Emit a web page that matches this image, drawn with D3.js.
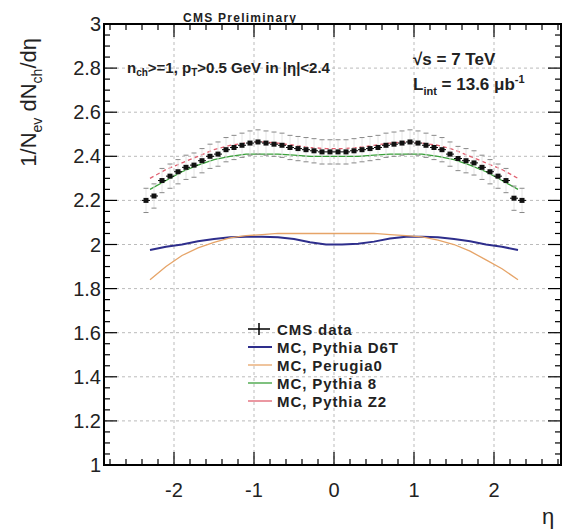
<!DOCTYPE html>
<html>
<head>
<meta charset="utf-8">
<script src="https://cdn.jsdelivr.net/npm/d3@7"></script>
<style>
  body { margin: 0; background: #fff; }
  svg { display: block; font-family: "Liberation Sans", Arial, sans-serif; }
</style>
</head>
<body>
<div id="chart"></div>
<script>
// data bin centres (0.1 wide bins)
const dataEta = [-2.35, -2.25, -2.15, -2.05, -1.95, -1.85, -1.75, -1.65, -1.55, -1.45, -1.35, -1.25,
                 -1.15, -1.05, -0.95, -0.85, -0.75, -0.65, -0.55, -0.45, -0.35, -0.25, -0.15, -0.05,
                 0.05, 0.15, 0.25, 0.35, 0.45, 0.55, 0.65, 0.75, 0.85, 0.95, 1.05, 1.15,
                 1.25, 1.35, 1.45, 1.55, 1.65, 1.75, 1.85, 1.95, 2.05, 2.15, 2.25, 2.35];
const cmsData = [2.20, 2.22, 2.29, 2.31, 2.33, 2.35, 2.36, 2.38, 2.40, 2.41, 2.43, 2.44,
                 2.45, 2.46, 2.465, 2.46, 2.455, 2.45, 2.44, 2.435, 2.43, 2.425, 2.42, 2.42,
                 2.42, 2.42, 2.425, 2.43, 2.435, 2.44, 2.45, 2.455, 2.46, 2.465, 2.46, 2.45,
                 2.44, 2.43, 2.41, 2.39, 2.38, 2.37, 2.35, 2.33, 2.31, 2.29, 2.21, 2.20];
const cmsErr = 0.055;

// MC curves
const mcEta = [-2.3, -2.1, -1.9, -1.7, -1.5, -1.3, -1.1, -0.9, -0.7, -0.5, -0.3, -0.1,
               0.1, 0.3, 0.5, 0.7, 0.9, 1.1, 1.3, 1.5, 1.7, 1.9, 2.1, 2.3];
const pythiaD6T = [1.975, 1.99, 2.0, 2.015, 2.025, 2.033, 2.035, 2.035, 2.033, 2.025, 2.01, 2.0,
                   2.0, 2.003, 2.013, 2.027, 2.035, 2.035, 2.033, 2.025, 2.015, 2.0, 1.99, 1.975];
const perugia0 = [1.84, 1.90, 1.95, 1.985, 2.01, 2.03, 2.04, 2.045, 2.05, 2.05, 2.05, 2.05,
                  2.05, 2.05, 2.05, 2.045, 2.04, 2.035, 2.02, 2.0, 1.97, 1.93, 1.89, 1.84];
const pythia8 = [2.25, 2.29, 2.33, 2.36, 2.385, 2.40, 2.41, 2.41, 2.41, 2.405, 2.40, 2.40,
                 2.40, 2.40, 2.405, 2.41, 2.41, 2.41, 2.40, 2.385, 2.36, 2.33, 2.29, 2.25];
const pythiaZ2 = [2.30, 2.34, 2.37, 2.40, 2.43, 2.45, 2.46, 2.465, 2.46, 2.45, 2.44, 2.435,
                  2.435, 2.44, 2.45, 2.46, 2.465, 2.46, 2.45, 2.43, 2.40, 2.37, 2.34, 2.30];

const xTicks = [-2, -1, 0, 1, 2];
const yTicks = [1, 1.2, 1.4, 1.6, 1.8, 2, 2.2, 2.4, 2.6, 2.8, 3];

const mcSeries = [
  {name: "MC, Pythia D6T", values: pythiaD6T, color: "#2e2e8c", dash: null, width: 2},
  {name: "MC, Perugia0", values: perugia0, color: "#e6a468", dash: null, width: 1.3},
  {name: "MC, Pythia 8", values: pythia8, color: "#3aa03a", dash: null, width: 1.3},
  {name: "MC, Pythia Z2", values: pythiaZ2, color: "#e06070", dash: "4,3", width: 1.3}
];

const W = 562, H = 529;
const svg = d3.select("#chart").append("svg").attr("width", W).attr("height", H);

const x = d3.scaleLinear().domain([-2.875, 2.8375]).range([104, 561]);
const y = d3.scaleLinear().domain([1, 3]).range([465, 24]);

// grid
const grid = svg.append("g").attr("stroke", "#bbb").attr("stroke-width", 1).attr("stroke-dasharray", "3,3");
grid.selectAll(".gx").data(xTicks).enter().append("line")
  .attr("x1", d => x(d)).attr("x2", d => x(d)).attr("y1", y(1)).attr("y2", y(3));
grid.selectAll(".gy").data(yTicks.slice(1, -1)).enter().append("line")
  .attr("x1", x.range()[0]).attr("x2", x.range()[1]).attr("y1", d => y(d)).attr("y2", d => y(d));

// frame
svg.append("rect").attr("x", x.range()[0]).attr("y", y(3))
  .attr("width", x.range()[1] - x.range()[0]).attr("height", y(1) - y(3))
  .attr("fill", "none").attr("stroke", "#000").attr("stroke-width", 2);

// ticks (inward, ROOT style)
const ticks = svg.append("g").attr("stroke", "#000").attr("stroke-width", 1.2);
const xMinor = d3.range(-2.8, 2.81, 0.2).map(v => Math.round(v * 10) / 10);
xMinor.forEach(v => {
  const major = Number.isInteger(v);
  const len = major ? 13 : 6;
  ticks.append("line").attr("x1", x(v)).attr("x2", x(v)).attr("y1", y(1)).attr("y2", y(1) - len);
  ticks.append("line").attr("x1", x(v)).attr("x2", x(v)).attr("y1", y(3)).attr("y2", y(3) + len);
});
const yMinor = d3.range(1, 3.001, 0.05).map(v => Math.round(v * 100) / 100);
yMinor.forEach(v => {
  const major = Math.abs(v * 5 - Math.round(v * 5)) < 1e-6;
  const len = major ? 13 : 6;
  ticks.append("line").attr("x1", x.range()[0]).attr("x2", x.range()[0] + len).attr("y1", y(v)).attr("y2", y(v));
  ticks.append("line").attr("x1", x.range()[1]).attr("x2", x.range()[1] - len).attr("y1", y(v)).attr("y2", y(v));
});

// tick labels
svg.selectAll(".xl").data(xTicks).enter().append("text")
  .attr("x", d => x(d)).attr("y", 497).attr("text-anchor", "middle")
  .attr("font-size", 20).attr("fill", "#222").text(d => d);
svg.selectAll(".yl").data(yTicks).enter().append("text")
  .attr("x", 101).attr("y", d => y(d) + 7).attr("text-anchor", "end")
  .attr("font-size", 20).attr("fill", "#222").text(d => d);

// axis titles
svg.append("text").attr("x", 548).attr("y", 524).attr("text-anchor", "middle")
  .attr("font-size", 22).attr("fill", "#222").text("η");
const yt = svg.append("text").attr("transform", "translate(36,38) rotate(-90)")
  .attr("text-anchor", "end").attr("font-size", 22).attr("fill", "#222");
yt.append("tspan").text("1/N");
yt.append("tspan").attr("font-size", 14).attr("dy", 6).text("ev");
yt.append("tspan").attr("dy", -6).text(" dN");
yt.append("tspan").attr("font-size", 14).attr("dy", 6).text("ch");
yt.append("tspan").attr("dy", -6).text("/dη");

// MC curves
const line = d3.line().x((d, i) => x(mcEta[i])).y(d => y(d));
mcSeries.forEach(s => {
  svg.append("path").datum(s.values).attr("d", line)
    .attr("fill", "none").attr("stroke", s.color).attr("stroke-width", s.width)
    .attr("stroke-dasharray", s.dash);
});

// CMS data with systematic error caps
const pts = svg.append("g");
cmsData.forEach((v, i) => {
  const cx = x(dataEta[i]);
  pts.append("line").attr("x1", cx).attr("x2", cx).attr("y1", y(v - cmsErr)).attr("y2", y(v + cmsErr))
    .attr("stroke", "#e4e4e4").attr("stroke-width", 1);
  [v - cmsErr, v + cmsErr].forEach(e => {
    pts.append("line").attr("x1", cx - 2.5).attr("x2", cx + 2.5).attr("y1", y(e)).attr("y2", y(e))
      .attr("stroke", "#888").attr("stroke-width", 1);
  });
  pts.append("line").attr("x1", cx - 4).attr("x2", cx + 4).attr("y1", y(v)).attr("y2", y(v))
    .attr("stroke", "#000").attr("stroke-width", 1);
  pts.append("rect").attr("x", cx - 2.5).attr("y", y(v) - 2.5).attr("width", 5).attr("height", 5).attr("fill", "#111");
});

// texts
svg.append("text").attr("x", 183).attr("y", 22).attr("font-size", 12).attr("font-weight", "bold")
  .attr("textLength", 113).attr("fill", "#222").text("CMS Preliminary");
const cut = svg.append("text").attr("x", 127).attr("y", 73).attr("font-size", 15).attr("font-weight", "bold").attr("fill", "#222");
cut.append("tspan").text("n");
cut.append("tspan").attr("font-size", 10).attr("dy", 3).text("ch");
cut.append("tspan").attr("dy", -3).text(">=1, p");
cut.append("tspan").attr("font-size", 10).attr("dy", 3).text("T");
cut.append("tspan").attr("dy", -3).text(">0.5 GeV in |η|<2.4");

svg.append("text").attr("x", 413).attr("y", 65).attr("font-size", 17).attr("font-weight", "bold")
  .attr("fill", "#222").text("√s = 7 TeV");
const lum = svg.append("text").attr("x", 413).attr("y", 90).attr("font-size", 17).attr("font-weight", "bold").attr("fill", "#222");
lum.append("tspan").text("L");
lum.append("tspan").attr("font-size", 11).attr("dy", 5).text("int");
lum.append("tspan").attr("dy", -5).text(" = 13.6 μb");
lum.append("tspan").attr("font-size", 11).attr("dy", -7).text("-1");

// legend
const legY = [329, 347, 365, 383, 401];
const legFont = 15;
const leg = svg.append("g");
leg.append("line").attr("x1", 248).attr("x2", 270).attr("y1", legY[0]).attr("y2", legY[0]).attr("stroke", "#000").attr("stroke-width", 1.5);
leg.append("line").attr("x1", 259).attr("x2", 259).attr("y1", legY[0] - 6).attr("y2", legY[0] + 6).attr("stroke", "#000").attr("stroke-width", 1.5);
leg.append("text").attr("x", 277).attr("y", legY[0] + 5.5).attr("font-size", legFont).attr("font-weight", "bold")
  .attr("letter-spacing", 0.9).attr("fill", "#222").text("CMS data");
mcSeries.forEach((s, i) => {
  const ly = legY[i + 1];
  leg.append("line").attr("x1", 248).attr("x2", 272).attr("y1", ly).attr("y2", ly)
    .attr("stroke", s.color).attr("stroke-width", s.width);
  leg.append("text").attr("x", 277).attr("y", ly + 5.5).attr("font-size", legFont).attr("font-weight", "bold")
    .attr("letter-spacing", 0.9).attr("fill", "#222").text(s.name);
});
</script>
</body>
</html>
